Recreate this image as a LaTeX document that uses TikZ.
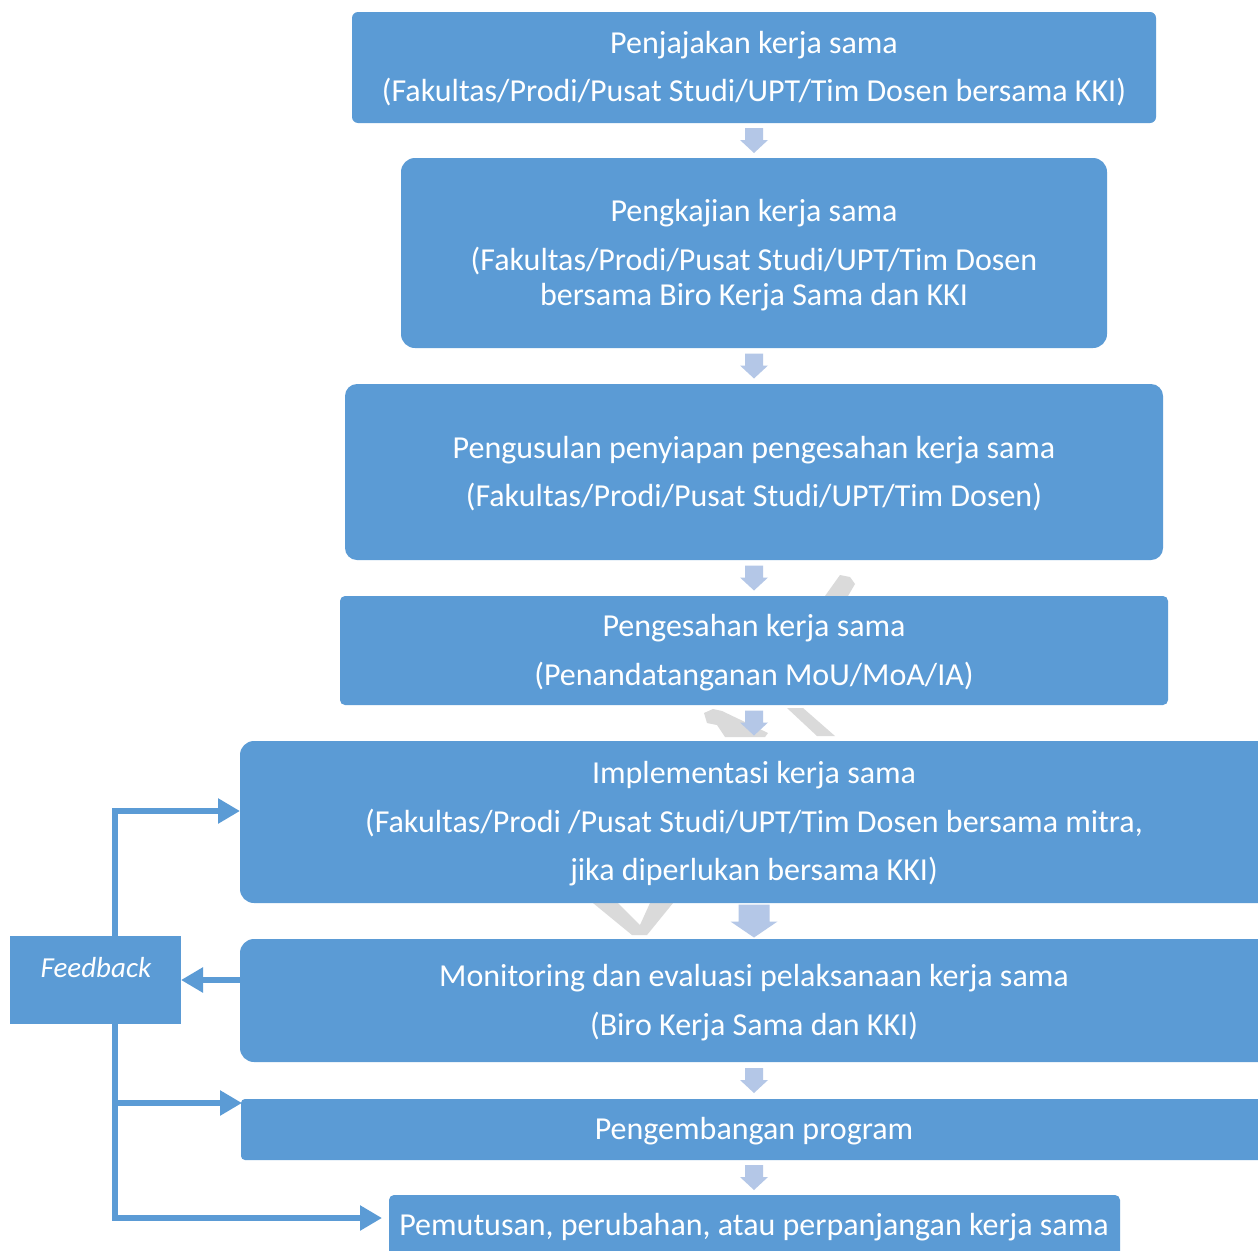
\documentclass[tikz,border=0pt]{standalone}
\usepackage{fontspec}
\setmainfont{Carlito}
\usetikzlibrary{arrows.meta,calc}
\definecolor{boxblue}{HTML}{5B9BD5}
\definecolor{arrowblue}{HTML}{B4C7E7}
\definecolor{wmgray}{HTML}{DADADA}
\begin{document}
\begin{tikzpicture}[x=1pt,y=1pt,
  box/.style={fill=boxblue, draw=none, anchor=north west, inner sep=0pt, outer sep=0pt},
  txt/.style={text=white, anchor=base, inner sep=0pt, font=\fontsize{32}{38}\selectfont},
  conn/.style={draw=boxblue, line width=6pt, -{Triangle[length=22pt,width=24pt]}},
  smallarrow/.pic={\fill[arrowblue] (-9,12.5) -- (9,12.5) -- (9,0.5) -- (14,0.5) -- (0,-12.5) -- (-14,0.5) -- (-9,0.5) -- cycle;},
  bigarrow/.pic={\fill[arrowblue] (-15.5,16.5) -- (15.5,16.5) -- (15.5,-0.5) -- (23.5,-0.5) -- (0,-16.5) -- (-23.5,-0.5) -- (-15.5,-0.5) -- cycle;}
  ]
\useasboundingbox (0,0) rectangle (1258,-1250);
\clip (0,0) rectangle (1258,-1250);
\fill[white] (0,0) rectangle (1258,-1250);

% watermark fragments
\fill[wmgray] (840,-575) -- (850,-577) -- (855,-584) -- (848,-596) -- (825,-596) -- cycle;
\fill[wmgray] (704,-713) -- (713,-709) -- (722,-711) -- (768,-733) -- (765,-737) -- (725,-737) -- (717,-725) -- (707,-723) -- cycle;
\fill[wmgray] (787,-708) -- (803,-708) -- (835,-736) -- (817,-736) -- cycle;
\fill[wmgray] (593,-903) -- (618,-903) -- (640,-925) -- (650,-903) -- (673,-903) -- (647,-935) -- (632,-935) -- cycle;

% boxes
\node[box, minimum width=804, minimum height=111, rounded corners=6] (b1) at (352,-12) {};
\node[box, minimum width=706, minimum height=190, rounded corners=14] (b2) at (401,-158) {};
\node[box, minimum width=818, minimum height=176, rounded corners=12] (b3) at (345,-384) {};
\node[box, minimum width=828, minimum height=109, rounded corners=5] (b4) at (340,-596) {};
\node[box, minimum width=1040, minimum height=162, rounded corners=14] (b5) at (240,-741) {};
\node[box, minimum width=1040, minimum height=123, rounded corners=14] (b6) at (240,-939) {};
\node[box, minimum width=1040, minimum height=61, rounded corners=4] (b7) at (241,-1099) {};
\node[box, minimum width=731, minimum height=80, rounded corners=5] (b8) at (389,-1195) {};
\node[box, minimum width=171, minimum height=88] (fb) at (10,-936) {};

% texts
\node[txt] (t1a) at (754,-53) {Penjajakan kerja sama};
\node[txt] (t1b) at (754,-101) {(Fakultas/Prodi/Pusat Studi/UPT/Tim Dosen bersama KKI)};
\node[txt] (t2a) at (754,-221) {Pengkajian kerja sama};
\node[txt] (t2b) at (754,-270) {(Fakultas/Prodi/Pusat Studi/UPT/Tim Dosen};
\node[txt] (t2c) at (754,-305) {bersama Biro Kerja Sama dan KKI};
\node[txt] (t3a) at (754,-458) {Pengusulan penyiapan pengesahan kerja sama};
\node[txt] (t3b) at (754,-506) {(Fakultas/Prodi/Pusat Studi/UPT/Tim Dosen)};
\node[txt] (t4a) at (754,-636) {Pengesahan kerja sama};
\node[txt] (t4b) at (754,-685) {(Penandatanganan MoU/MoA/IA)};
\node[txt] (t5a) at (754,-783) {Implementasi kerja sama};
\node[txt] (t5b) at (754,-832) {(Fakultas/Prodi /Pusat Studi/UPT/Tim Dosen bersama mitra,};
\node[txt] (t5c) at (754,-880) {jika diperlukan bersama KKI)};
\node[txt] (t6a) at (754,-986) {Monitoring dan evaluasi pelaksanaan kerja sama};
\node[txt] (t6b) at (754,-1035) {(Biro Kerja Sama dan KKI)};
\node[txt] (t7) at (754,-1139) {Pengembangan program};
\node[txt] (t8) at (754,-1235) {Pemutusan, perubahan, atau perpanjangan kerja sama};
\node[txt, font=\fontsize{29}{34}\selectfont\itshape] (tf) at (96,-977) {Feedback};

% block arrows between steps
\pic at ($(t1a |- b1.south)!0.5!(t1a |- b2.north)$) {smallarrow};
\pic at ($(t1a |- b2.south)!0.5!(t1a |- b3.north)$) {smallarrow};
\pic at ($(t1a |- b3.south)!0.5!(t1a |- b4.north)$) {smallarrow};
\pic at ($(t1a |- b4.south)!0.5!(t1a |- b5.north)$) {smallarrow};
\pic at ($(t1a |- b5.south)!0.5!(t1a |- b6.north)$) {bigarrow};
\pic at ($(t1a |- b6.south)!0.5!(t1a |- b7.north)$) {smallarrow};
\pic at ($(t1a |- b7.south)!0.5!(t1a |- b8.north)$) {smallarrow};

% feedback connectors
\coordinate (fup) at ($(fb.north)+(19.5,0)$);
\coordinate (fdn) at ($(fb.south)+(19.5,0)$);
\coordinate (e5) at ($(b5.west)+(0,11)$);
\coordinate (e7) at ($(b7.west)+(1,26.5)$);
\coordinate (j7) at (fdn |- e7);
\coordinate (e8) at (382,-1218);
\draw[conn] (fup) |- (e5);
\draw[conn] (b6.west |- fb.east) -- (fb.east);
\draw[conn] (fdn) |- (e8);
\draw[conn] (j7) -- (e7);
\end{tikzpicture}
\end{document}
